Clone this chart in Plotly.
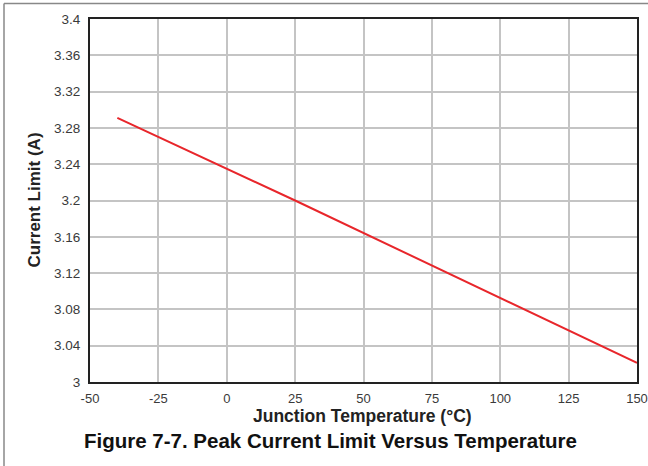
import plotly.graph_objects as go

temperature = [-40, 25, 150]
current_limit = [3.291, 3.2, 3.021]
x_ticks = [-50, -25, 0, 25, 50, 75, 100, 125, 150]
x_tick_labels = ["-50", "-25", "0", "25", "50", "75", "100", "125", "150"]
y_ticks = [3, 3.04, 3.08, 3.12, 3.16, 3.2, 3.24, 3.28, 3.32, 3.36, 3.4]
y_tick_labels = ["3", "3.04", "3.08", "3.12", "3.16", "3.2", "3.24", "3.28", "3.32", "3.36", "3.4"]

W, H = 648, 466
L, R, T, B = 90, 11, 19, 84

fig = go.Figure()
fig.add_trace(go.Scatter(x=temperature, y=current_limit, mode="lines",
                         line=dict(color="#e8262b", width=2), showlegend=False))

fig.update_layout(
    width=W, height=H,
    margin=dict(l=L, r=R, t=T, b=B, autoexpand=False),
    paper_bgcolor="white", plot_bgcolor="white",
    font=dict(family="Liberation Sans, Arial, sans-serif", color="#3a3a3a", size=13),
    xaxis=dict(range=[-50, 150], tickvals=x_ticks, ticktext=x_tick_labels, showgrid=True,
               gridcolor="#c4c4c4", gridwidth=2, automargin=False, ticklabeloverflow="allow",
               zeroline=False, showline=True, linecolor="#222222", linewidth=2, mirror=True,
               ticks="", ticklabelstandoff=3, tickfont=dict(size=13, color="#3a3a3a")),
    yaxis=dict(range=[3, 3.4], tickvals=y_ticks, ticktext=y_tick_labels, showgrid=True, gridcolor="#c4c4c4",
               gridwidth=2, zeroline=False, showline=True, linecolor="#222222", linewidth=2, mirror=True,
               automargin=False, ticklabeloverflow="allow", ticks="", ticklabelstandoff=5,
               tickfont=dict(size=13.5, color="#3a3a3a")),
)

pw = W - L - R
ph = H - T - B
def px_x(p):
    return (p - L) / pw
def px_y(p):
    return (H - B - p) / ph

fig.add_annotation(text="<b>Junction Temperature (°C)</b>",
                   xref="paper", yref="paper", x=px_x(362), y=px_y(416),
                   showarrow=False, font=dict(size=17.5, color="#222222"),
                   xanchor="center", yanchor="middle")
fig.add_annotation(text="<b>Current Limit (A)</b>", textangle=-90,
                   xref="paper", yref="paper", x=px_x(34), y=px_y(200.5),
                   showarrow=False, font=dict(size=17, color="#222222"),
                   xanchor="center", yanchor="middle")
fig.add_annotation(text="<b>Figure 7-7. Peak Current Limit Versus Temperature</b>",
                   xref="paper", yref="paper", x=px_x(330), y=px_y(440.5),
                   showarrow=False, font=dict(size=20.5, color="#111111"),
                   xanchor="center", yanchor="middle")

fig.add_shape(type="line", xref="paper", yref="paper",
              x0=px_x(4), x1=px_x(660), y0=px_y(3.5), y1=px_y(3.5),
              line=dict(color="#888888", width=1.5), layer="above")
fig.add_shape(type="line", xref="paper", yref="paper",
              x0=px_x(4), x1=px_x(4), y0=px_y(3.5), y1=px_y(480),
              line=dict(color="#888888", width=1.5), layer="above")

fig.write_html("out.html", config={"displayModeBar": False},
               post_script="document.body.style.margin='0';document.body.style.overflow='hidden';")
